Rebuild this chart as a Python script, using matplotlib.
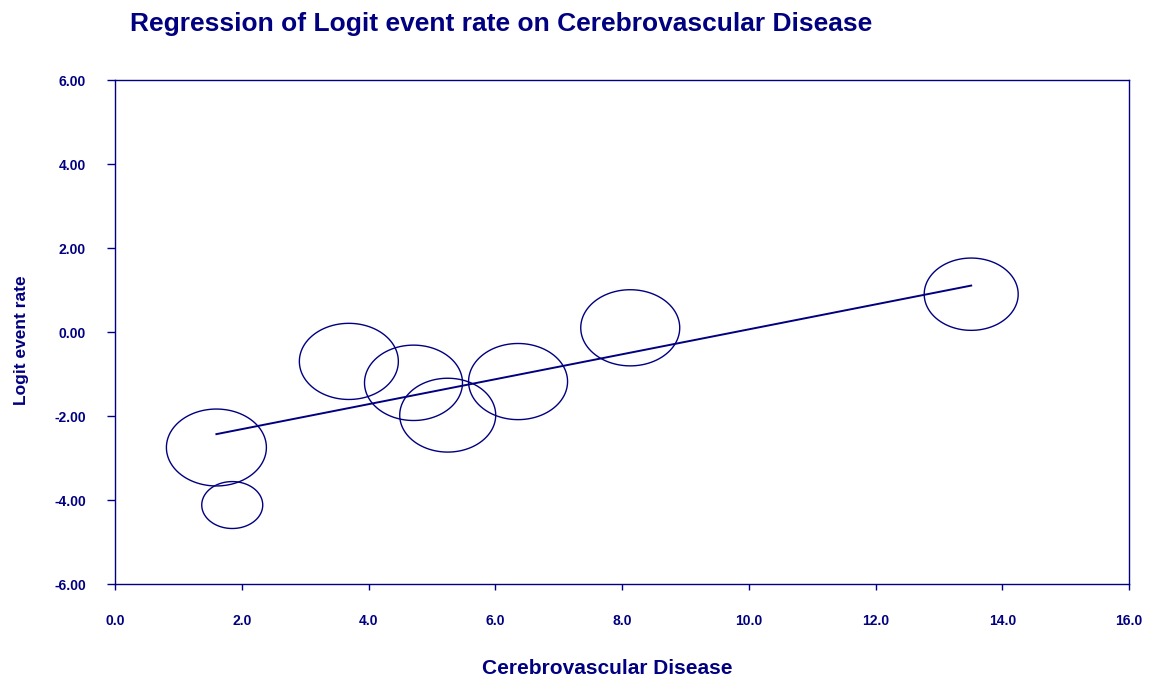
import numpy as np
import matplotlib
matplotlib.use("Agg")
import matplotlib.pyplot as plt
from matplotlib.path import Path

# Study data
cvd = [1.60, 1.85, 3.69, 4.71, 5.25, 6.36, 8.13, 13.51]
logit_rate = [-2.75, -4.12, -0.70, -1.21, -1.98, -1.18, 0.10, 0.90]
weights = [1.00, 0.61, 0.99, 0.98, 0.96, 0.99, 0.99, 0.94]  # relative study weight

# Regression line
slope = 0.297
intercept = -2.907

x_ticks = [0, 2, 4, 6, 8, 10, 12, 14, 16]
y_ticks = [-6, -4, -2, 0, 2, 4, 6]

navy = "#000080"
plt.rcParams['font.family'] = ['Liberation Sans', 'DejaVu Sans']

fig = plt.figure(figsize=(11.51, 6.81), dpi=100)
ax = fig.add_axes([115 / 1151, 1 - 584 / 681, (1129 - 115) / 1151, (584 - 80) / 681])

# ellipse marker (circles are drawn wider than tall in the original)
t = np.linspace(0, 2 * np.pi, 100)
ell = Path(np.column_stack([np.cos(t), np.sin(t) / 1.3]), closed=True)
sizes = [(72 * w) ** 2 for w in weights]
ax.scatter(cvd, logit_rate, s=sizes, marker=ell, facecolors='none',
           edgecolors=navy, linewidths=1.0, zorder=3)

xs = np.array([min(cvd), max(cvd)])
ax.plot(xs, intercept + slope * xs, color=navy, lw=1.4, zorder=4)

ax.set_xlim(0, 16)
ax.set_ylim(-6, 6)
ax.set_xticks(x_ticks)
ax.set_xticklabels([f"{v:.1f}" for v in x_ticks])
ax.set_yticks(y_ticks)
ax.set_yticklabels([f"{v:.2f}" for v in y_ticks])

for s in ax.spines.values():
    s.set_color(navy)
    s.set_linewidth(1.0)
ax.tick_params(axis='y', direction='out', length=6, width=1, color=navy,
               labelcolor=navy, labelsize=10, pad=15)
ax.tick_params(axis='x', direction='out', length=4.5, width=1, color=navy,
               labelcolor=navy, labelsize=10, pad=17)
for lab in ax.get_xticklabels() + ax.get_yticklabels():
    lab.set_fontweight('bold')

fig.text(130 / 1151, 1 - 24 / 681, "Regression of Logit event rate on Cerebrovascular Disease",
         color=navy, fontsize=19, fontweight='bold', ha='left', va='center')
fig.text(607 / 1151, 1 - 668 / 681, "Cerebrovascular Disease",
         color=navy, fontsize=15, fontweight='bold', ha='center', va='center')
fig.text(22 / 1151, 1 - 340 / 681, "Logit event rate",
         color=navy, fontsize=12.5, fontweight='bold', ha='center', va='center',
         rotation=90, family=['Liberation Sans Narrow', 'Liberation Sans'])

fig.savefig("out.png", dpi=100)
